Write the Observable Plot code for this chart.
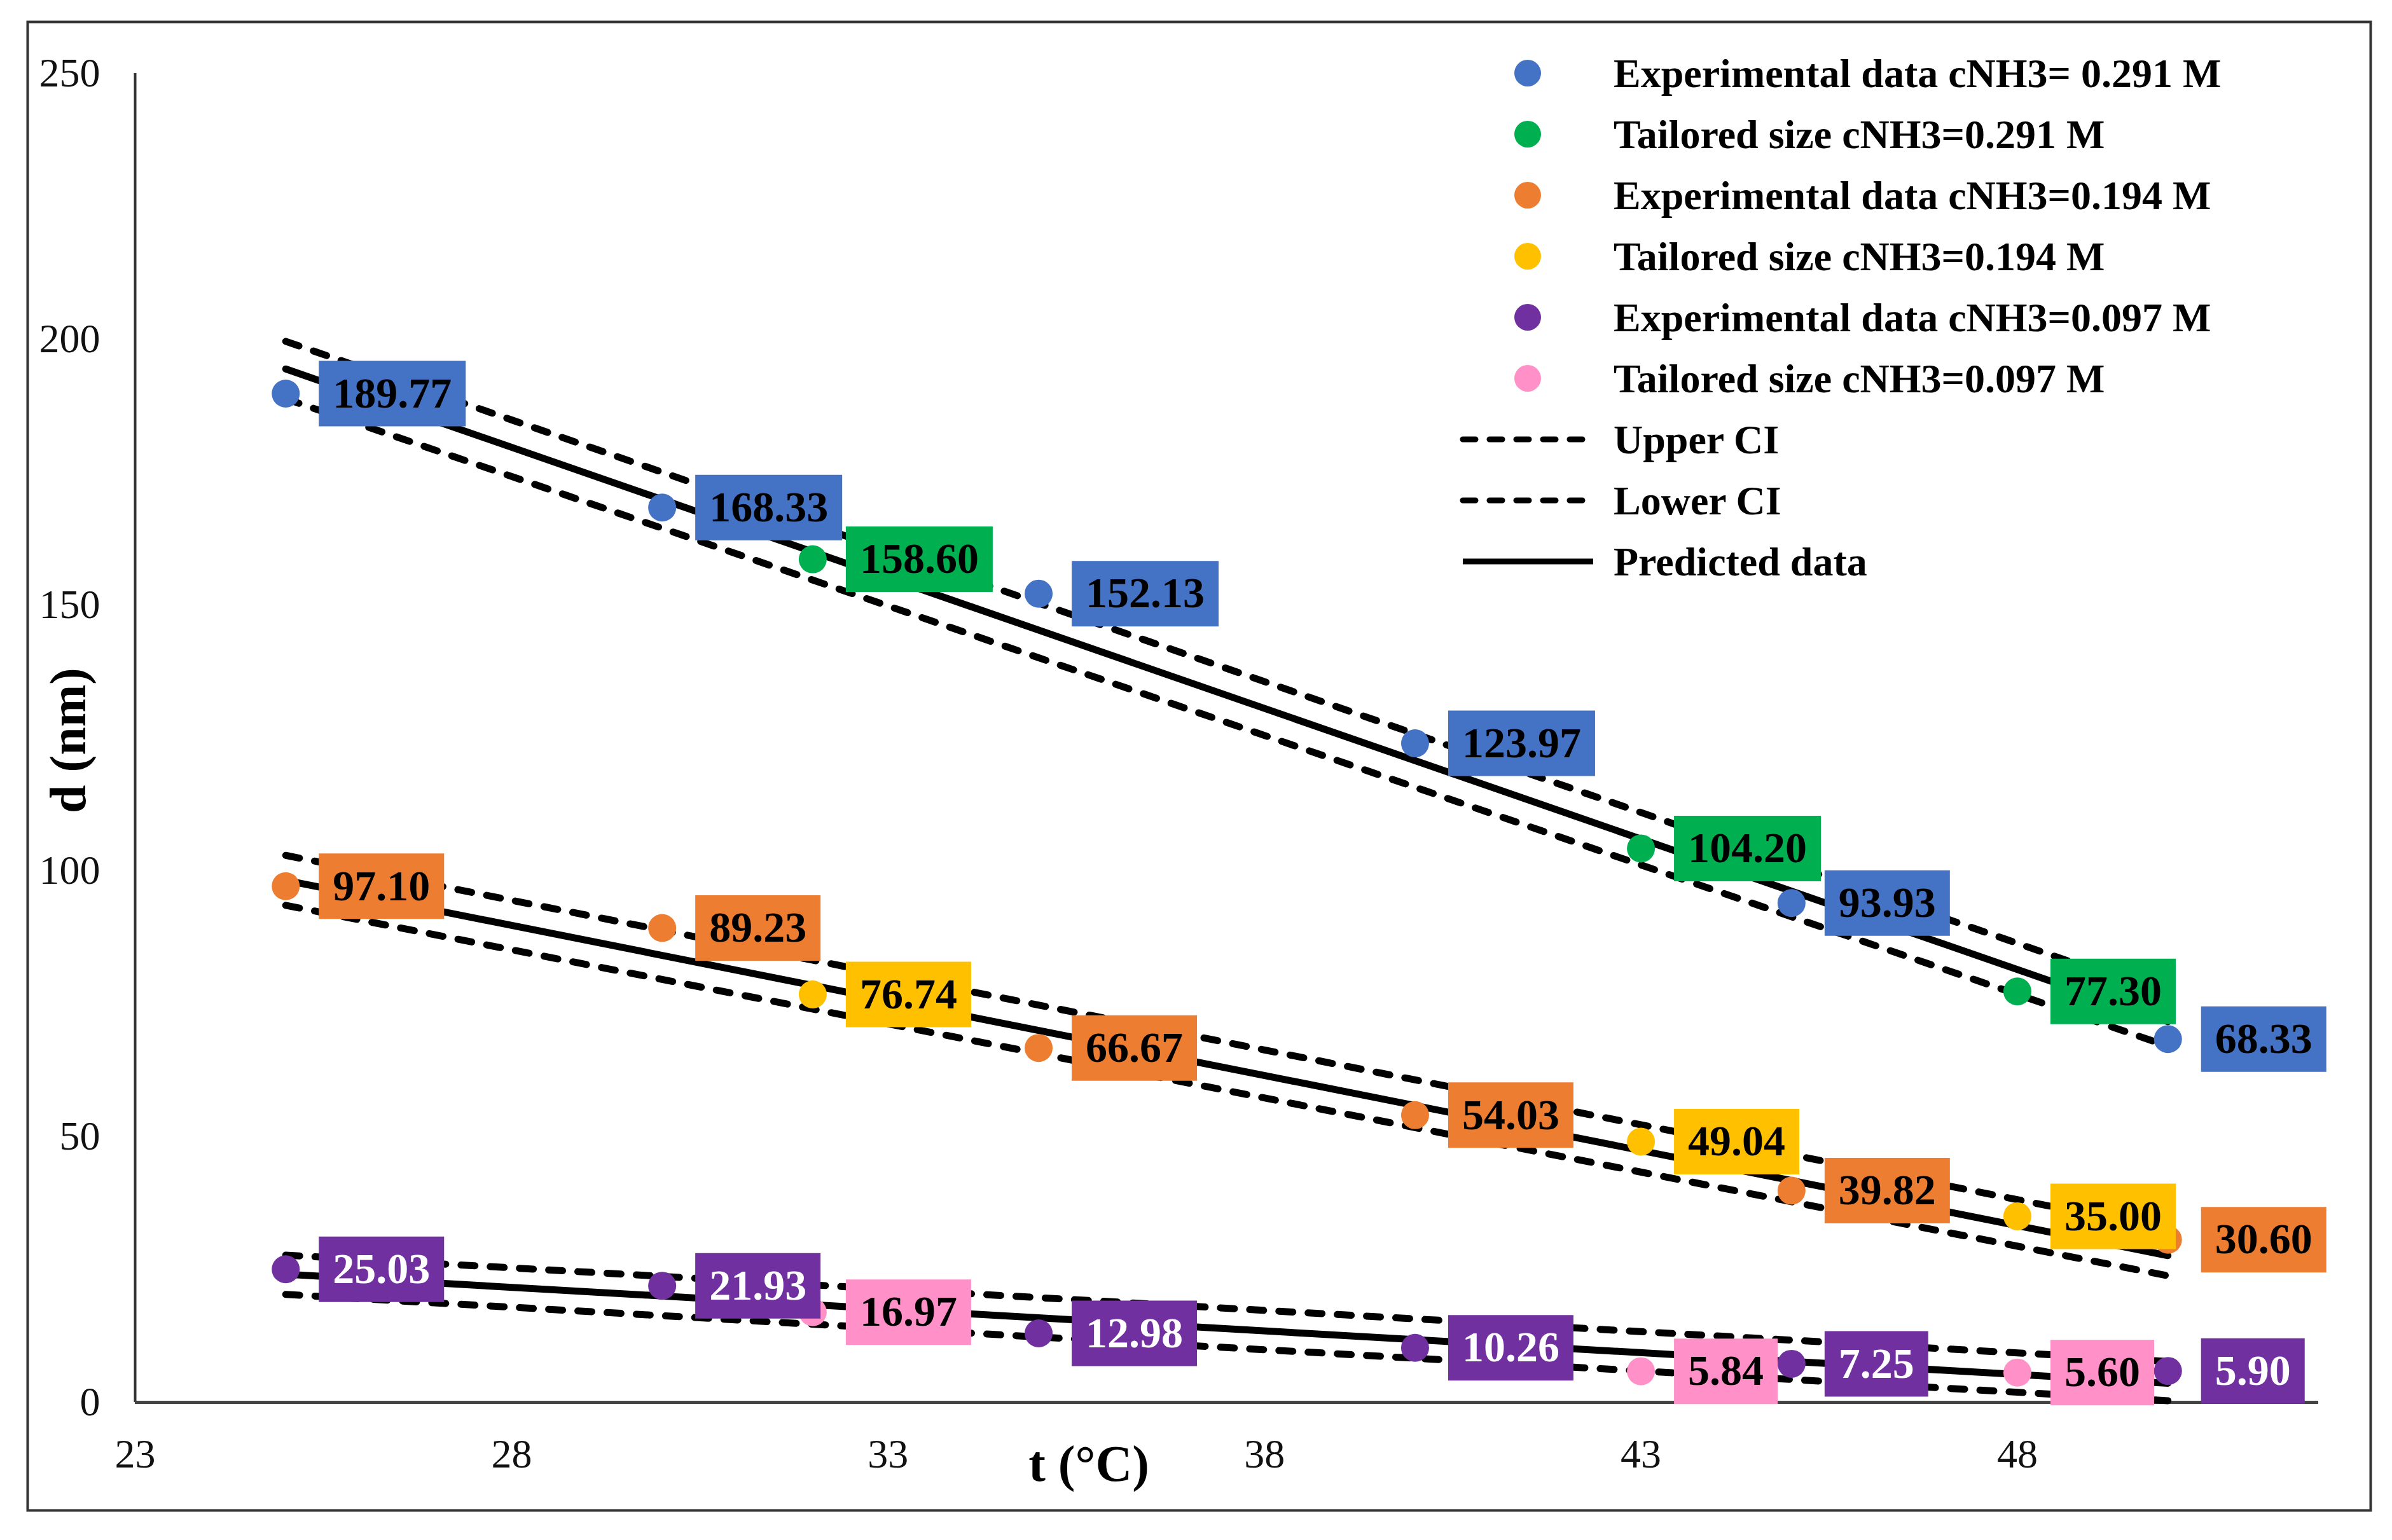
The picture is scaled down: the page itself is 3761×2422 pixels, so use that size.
<!DOCTYPE html>
<html>
<head>
<meta charset="utf-8">
<script src="https://cdn.jsdelivr.net/npm/d3@7"></script>
<script src="https://cdn.jsdelivr.net/npm/@observablehq/plot@0.6"></script>
<style>
  html, body { margin: 0; padding: 0; background: #fff; }
  #chart { position: relative; width: 3761px; height: 2422px; }
</style>
</head>
<body>
<div id="chart"></div>
<script>
// ---------- data ----------
const expT = [25, 30, 35, 40, 45, 50];
const tailT = [32, 43, 48];

const exp0291 = [189.77, 168.33, 152.13, 123.97, 93.93, 68.33];
const tail0291 = [158.60, 104.20, 77.30];
const exp0194 = [97.10, 89.23, 66.67, 54.03, 39.82, 30.60];
const tail0194 = [76.74, 49.04, 35.00];
const exp0097 = [25.03, 21.93, 12.98, 10.26, 7.25, 5.90];
const tail0097 = [16.97, 5.84, 5.60];

// predicted line and confidence bounds (values read at the line ends)
const fitT = [25, 50];
const upper0291 = [199.6, 76.5];
const pred0291 = [194.4, 71.6];
const lower0291 = [188.8, 67.0];
const upper0194 = [102.9, 32.5];
const pred0194 = [98.2, 27.6];
const lower0194 = [93.5, 23.8];
const upper0097 = [27.7, 7.7];
const pred0097 = [24.1, 3.6];
const lower0097 = [20.3, 0.3];

const xTicks = [23, 28, 33, 38, 43, 48];
const yTicks = [0, 50, 100, 150, 200, 250];
const xDomain = [23, 52];
const yDomain = [0, 250];

const legendLabels = [
  "Experimental data cNH3= 0.291 M",
  "Tailored size cNH3=0.291 M",
  "Experimental data cNH3=0.194 M",
  "Tailored size cNH3=0.194 M",
  "Experimental data cNH3=0.097 M",
  "Tailored size cNH3=0.097 M",
  "Upper CI",
  "Lower CI",
  "Predicted data"
];
const xTitle = "t (°C)";
const yTitle = "d (nm)";

// ---------- styles ----------
const colors = ["#4472C4", "#00B050", "#ED7D31", "#FFC000", "#7030A0", "#FF91C8"];
const inks = ["#000", "#000", "#000", "#000", "#fff", "#000"];
const FONT = "'Liberation Serif', 'Times New Roman', serif";

const rows = (ts, ds) => ts.map((t, i) => ({t, d: ds[i]}));

const pointSeries = [
  rows(expT, exp0291), rows(tailT, tail0291),
  rows(expT, exp0194), rows(tailT, tail0194),
  rows(expT, exp0097), rows(tailT, tail0097)
];
const fitGroups = [
  [upper0291, pred0291, lower0291],
  [upper0194, pred0194, lower0194],
  [upper0097, pred0097, lower0097]
];

const dashStyle = {stroke: "#000", strokeWidth: 11, strokeDasharray: "22,24", strokeLinecap: "round"};
const lineMarks = fitGroups.flatMap(([u, p, l]) => [
  Plot.line(rows(fitT, u), {x: "t", y: "d", ...dashStyle}),
  Plot.line(rows(fitT, l), {x: "t", y: "d", ...dashStyle}),
  Plot.line(rows(fitT, p), {x: "t", y: "d", stroke: "#000", strokeWidth: 11})
]);

const dotMarks = pointSeries.map((r, k) =>
  Plot.dot(r, {x: "t", y: "d", r: 22, fill: colors[k], stroke: "none"})
);

const ctx = document.createElement("canvas").getContext("2d");
ctx.font = `bold 68px ${FONT}`;
function labelMarks(r, color, ink) {
  const s = r.d.toFixed(2);
  const w = ctx.measureText(s).width + 44, h = 103;
  const off = 52 + w / 2;
  const box = {draw(c) {
    c.moveTo(-w / 2, -h / 2); c.lineTo(w / 2, -h / 2);
    c.lineTo(w / 2, h / 2); c.lineTo(-w / 2, h / 2); c.closePath();
  }};
  return [
    Plot.dot([r], {x: "t", y: "d", symbol: box, r: 10, fill: color, stroke: "none", dx: off}),
    Plot.text([r], {x: "t", y: "d", text: () => s, dx: off, fill: ink, fontSize: 68,
      fontWeight: "bold", fontFamily: FONT, textAnchor: "middle", lineAnchor: "middle"})
  ];
}
const labelMarkList = pointSeries.flatMap((rs, k) => rs.flatMap(r => labelMarks(r, colors[k], inks[k])));

const plot = Plot.plot({
  width: 3761,
  height: 2422,
  marginLeft: 212,
  marginRight: 116,
  marginTop: 115,
  marginBottom: 217,
  style: {background: "#fff", fontFamily: FONT},
  x: {domain: xDomain},
  y: {domain: yDomain},
  marks: [
    Plot.frame({stroke: "#333", strokeWidth: 4, insetTop: -81, insetLeft: -169, insetRight: -82, insetBottom: -170}),
    Plot.axisY({ticks: yTicks, tickSize: 0, tickPadding: 55, fontSize: 64, label: null,
      tickFormat: d => String(d), fill: "#111"}),
    Plot.axisX({ticks: xTicks, tickSize: 0, tickPadding: 57, fontSize: 64, label: null,
      tickFormat: d => String(d), fill: "#111"}),
    Plot.ruleX([xDomain[0]], {y1: yDomain[0], y2: yDomain[1], stroke: "#333", strokeWidth: 4}),
    Plot.ruleY([yDomain[0]], {x1: xDomain[0], x2: xDomain[1], stroke: "#444", strokeWidth: 5}),
    Plot.text([xTitle], {frameAnchor: "bottom", dx: -217, dy: 98, fontSize: 80, fontWeight: "bold",
      fontFamily: FONT, textAnchor: "middle", lineAnchor: "middle", fill: "#000"}),
    Plot.text([yTitle], {frameAnchor: "left", dx: -104, dy: 4, rotate: -90, fontSize: 80, fontWeight: "bold",
      fontFamily: FONT, textAnchor: "middle", lineAnchor: "middle", fill: "#000"}),
    ...lineMarks,
    ...dotMarks,
    ...labelMarkList
  ]
});

// legend (inside the chart, top right)
const svg = d3.select(plot);
const lg = svg.append("g")
  .attr("font-family", FONT).attr("font-weight", "bold").attr("font-size", 64)
  .attr("fill", "#000").attr("text-anchor", "start");
legendLabels.forEach((lab, i) => {
  const y = 115 + 96 * i;
  if (i < 6) {
    lg.append("circle").attr("cx", 2402).attr("cy", y).attr("r", 21).attr("fill", colors[i]);
  } else {
    const ln = lg.append("line").attr("x1", 2300).attr("x2", 2505).attr("y1", y).attr("y2", y)
      .attr("stroke", "#000").attr("stroke-width", 9);
    if (i < 8) ln.attr("stroke-dasharray", "20,22").attr("stroke-linecap", "round");
  }
  lg.append("text").attr("x", 2537).attr("y", y).attr("dy", "0.35em")
    .attr("text-anchor", "start").text(lab);
});

document.getElementById("chart").append(plot);
</script>
</body>
</html>
